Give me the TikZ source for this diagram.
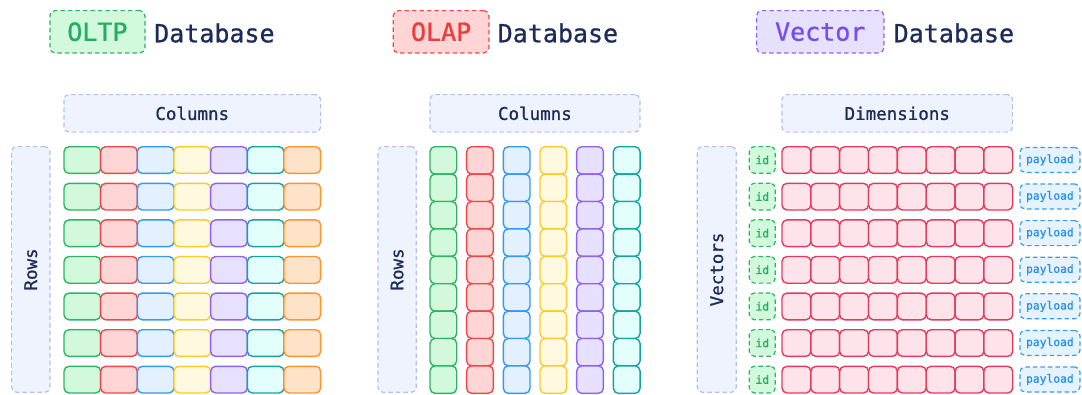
\documentclass[tikz,border=0pt]{standalone}
\usepackage{fontspec}
\setmonofont{DejaVu Sans Mono}
% medium-weight mono face for all lettering
\newfontfamily\medmono[FakeBold=0.9]{DejaVu Sans Mono}

% palette
\definecolor{navy}{HTML}{1C2B5A}
\definecolor{lblfill}{HTML}{EFF3FE}
\definecolor{lblline}{HTML}{B3C0EE}
\definecolor{sgreen}{HTML}{2DB564}\definecolor{fgreen}{HTML}{D3F9DD}
\definecolor{sred}{HTML}{F04848}\definecolor{fred}{HTML}{FFD5D5}
\definecolor{sblue}{HTML}{3399F5}\definecolor{fblue}{HTML}{E3F0FF}
\definecolor{syellow}{HTML}{FCCB2A}\definecolor{fyellow}{HTML}{FFF9E0}
\definecolor{sviolet}{HTML}{8C64F5}\definecolor{fviolet}{HTML}{E7E0FF}
\definecolor{steal}{HTML}{15A39F}\definecolor{fteal}{HTML}{E2FFFC}
\definecolor{sorange}{HTML}{FF9430}\definecolor{forange}{HTML}{FFE3C8}
\definecolor{svec}{HTML}{E23C5C}\definecolor{fvec}{HTML}{FFE3EA}
\definecolor{spay}{HTML}{3A9BF0}\definecolor{fpay}{HTML}{E5F2FF}\definecolor{tpay}{HTML}{2A8FE8}
\definecolor{tgreen}{HTML}{22B060}\definecolor{tred}{HTML}{EF3B3B}\definecolor{tviolet}{HTML}{7350EE}

\tikzset{
  cell/.style={draw, line width=1.4pt, rounded corners=5pt, inner sep=0pt, anchor=north west},
  dashbox/.style={draw, dash pattern=on 4.5pt off 3pt, line width=1.2pt, rounded corners=5pt, inner sep=0pt, anchor=north west},
  lab/.style={dashbox, draw=lblline, fill=lblfill},
  labtext/.style={text=navy, font=\medmono\fontsize{17.5}{20}\selectfont, inner sep=0pt},
  badge/.style={dashbox, font=\medmono\fontsize{25}{30}\selectfont},
  title/.style={text=navy, font=\medmono\fontsize{25}{30}\selectfont, inner sep=0pt, anchor=base west},
  tag/.style={dashbox, font=\medmono\fontsize{11.3}{13}\selectfont},
}

\begin{document}
\begin{tikzpicture}[x=1pt, y=-1pt]
\useasboundingbox (0,0) rectangle (1082,394);

% ---- headings ----
\node[badge, draw=sgreen, fill=fgreen, text=tgreen, minimum width=95pt, minimum height=42.3pt] (oltpbadge) at (49.3,10) {OLTP};
\node[title] (oltptitle) at (154,42.3) {Database};
\node[badge, draw=sred, fill=fred, text=tred, minimum width=95.6pt, minimum height=42.3pt] (olapbadge) at (392.7,10) {OLAP};
\node[title] (olaptitle) at (497.5,42.3) {Database};
\node[badge, draw=sviolet, fill=fviolet, text=tviolet, minimum width=127.3pt, minimum height=42.3pt] (vecbadge) at (756,10) {Vector};
\node[title] (vectitle) at (893.5,42.3) {Database};

% ---- OLTP: row-oriented table ----
\node[lab, minimum width=256.7pt, minimum height=37.5pt] (oltpcols) at (63.3,94) {};
\node[labtext] (oltpcolstext) at (oltpcols.center) {Columns};
\node[lab, minimum width=38.3pt, minimum height=245.7pt] (oltprows) at (11,146) {};
\node[labtext, rotate=90] (oltprowstext) at (oltprows.center) {Rows};
\foreach \c/\col in {0/green,1/red,2/blue,3/yellow,4/violet,5/teal,6/orange}{
  \foreach \r in {0,...,6}{
    \node[cell, draw=s\col, fill=f\col, minimum width=36.67pt, minimum height=26.7pt]
      (oltp-\r-\c) at ({63.3+36.67*\c},{146+36.6*\r}) {};
  }
}

% ---- OLAP: column-oriented table ----
\node[lab, minimum width=210pt, minimum height=37.5pt] (olapcols) at (429.3,94) {};
\node[labtext] (olapcolstext) at (olapcols.center) {Columns};
\node[lab, minimum width=38.4pt, minimum height=245.7pt] (olaprows) at (377.3,146) {};
\node[labtext, rotate=90] (olaprowstext) at (olaprows.center) {Rows};
\foreach \c/\col in {0/green,1/red,2/blue,3/yellow,4/violet,5/teal}{
  \foreach \r in {0,...,8}{
    \node[cell, draw=s\col, fill=f\col, minimum width=26.7pt, minimum height=27.4pt]
      (olap-\r-\c) at ({429.3+36.67*\c},{146+27.4*\r}) {};
  }
}

% ---- Vector store: id, embedding, payload ----
\node[lab, minimum width=230.7pt, minimum height=37.5pt] (vecdims) at (781.3,94) {};
\node[labtext] (vecdimstext) at (vecdims.center) {Dimensions};
\node[lab, minimum width=39pt, minimum height=245.7pt] (vecrows) at (696.7,146) {};
\node[labtext, rotate=90] (vecrowstext) at (vecrows.center) {Vectors};
\foreach \r in {0,...,6}{
  \node[tag, draw=sgreen, fill=fgreen, text=tgreen, minimum width=26pt, minimum height=26.7pt]
    (id-\r) at (748.7,{146+36.6*\r}) {id};
  \foreach \k in {0,...,7}{
    \node[cell, draw=svec, fill=fvec, minimum width=28.84pt, minimum height=26.7pt]
      (vec-\r-\k) at ({781.3+28.84*\k},{146+36.6*\r}) {};
  }
  \node[tag, draw=spay, fill=fpay, text=tpay, minimum width=60pt, minimum height=25pt]
    (payload-\r) at (1019.3,{146.8+36.6*\r}) {payload};
}
\end{tikzpicture}
\end{document}
